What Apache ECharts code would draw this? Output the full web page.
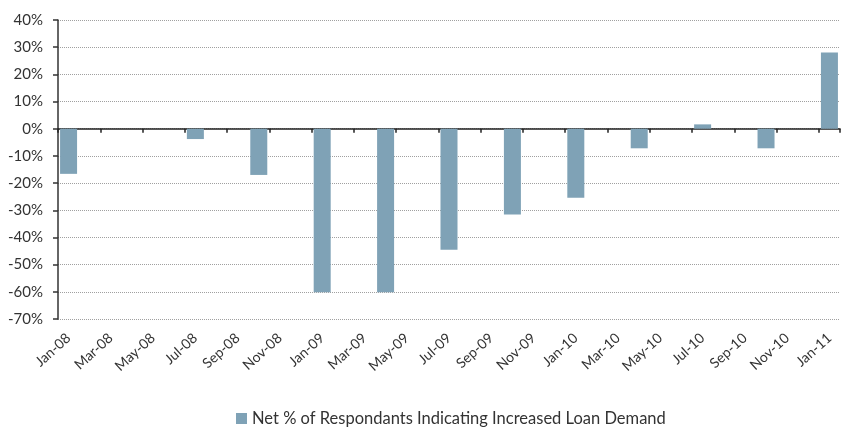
<!DOCTYPE html>
<html>
<head>
<meta charset="utf-8">
<script src="https://cdn.jsdelivr.net/npm/echarts@6/dist/echarts.min.js"></script>
<style>
html,body{margin:0;padding:0;background:#fff}
#main{width:844px;height:428px}
</style>
</head>
<body>
<div id="main"></div>
<script>
var months = ['Jan','Feb','Mar','Apr','May','Jun','Jul','Aug','Sep','Oct','Nov','Dec']
var years = ['08','09','10','11']
// monthly axis, survey values only every quarter
var quarters = ['Jan-08','Apr-08','Jul-08','Oct-08','Jan-09','Apr-09','Jul-09','Oct-09','Jan-10','Apr-10','Jul-10','Oct-10','Jan-11']
var demand = [-16.6, 0, -3.8, -17, -60.2, -60.2, -44.5, -31.6, -25.4, -7.2, 1.6, -7.2, 28]
var seriesName = 'Net % of Respondants Indicating Increased Loan Demand'

var cats = []
for (var y = 0; y < years.length; y++) {
    for (var m = 0; m < 12; m++) {
        cats.push(months[m] + '-' + years[y])
        if (years[y] == '11') break
    }
}
var vals = cats.map(function(c){
    var i = quarters.indexOf(c)
    return i < 0 ? null : demand[i]
})

var chart = echarts.init(document.getElementById('main'))
var txt = '#333'
var font = 'Lato'
chart.setOption({
    animation: false,
    grid: { left: 58, right: 4, top: 20, bottom: 109 },
    legend: {
        top: 405,
        left: 231,
        itemWidth: 11, itemHeight: 11,
        itemGap: 8,
        icon: 'rect',
        textStyle: { fontSize: 16.5, color: txt, fontFamily: font },
        data: [seriesName]
    },
    xAxis: [{
        type: 'category',
        data: cats,
        axisLine: { onZero: true, lineStyle: { color: '#222', width: 1.5 } },
        axisTick: { show: true, interval: 1, inside: false, length: 4, lineStyle: { color: '#222', width: 1.5 } },
        axisLabel: { show: false }
    }, {
        type: 'category',
        data: cats,
        position: 'bottom',
        axisLine: { show: false, onZero: false },
        axisTick: { show: false },
        axisLabel: {
            interval: 1, rotate: 42, margin: 17,
            color: txt, fontSize: 14, fontFamily: font
        }
    }],
    yAxis: {
        type: 'value',
        min: -70, max: 40, interval: 10,
        axisLine: { show: true, lineStyle: { color: '#333', width: 1.5 } },
        axisTick: { show: true, length: 5, lineStyle: { color: '#333', width: 1.5 } },
        axisLabel: {
            formatter: '{value}%', color: txt, fontSize: 15, fontFamily: font, margin: 15
        },
        splitLine: { lineStyle: { color: '#a0a0a0', type: 'dotted', width: 1 } }
    },
    series: [{
        name: seriesName,
        type: 'bar',
        xAxisIndex: 0,
        barWidth: 17,
        data: vals,
        itemStyle: { color: '#7fa2b6' }
    }]
})
</script>
</body>
</html>
